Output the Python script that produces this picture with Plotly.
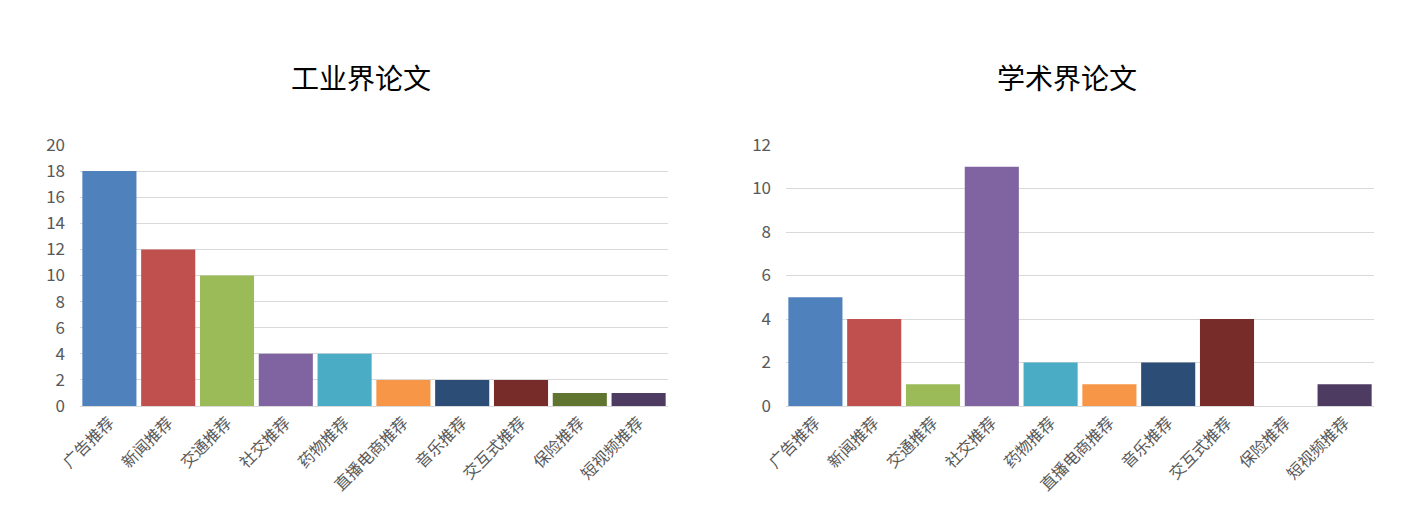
import plotly.graph_objects as go

categories = ["广告推荐", "新闻推荐", "交通推荐", "社交推荐", "药物推荐",
              "直播电商推荐", "音乐推荐", "交互式推荐", "保险推荐", "短视频推荐"]
industry = [18, 12, 10, 4, 4, 2, 2, 2, 1, 1]
academia = [5, 4, 1, 11, 2, 1, 2, 4, 0, 1]
colors = ["#4F81BD", "#C0504D", "#9BBB59", "#8064A2", "#4BACC6",
          "#F79646", "#2C4D75", "#772C2A", "#5F7530", "#4D3B62"]
titles = ["工业界论文", "学术界论文"]

font_family = "Noto Sans CJK SC, Open Sans, sans-serif"

fig = go.Figure()
fig.add_trace(go.Bar(x=categories, y=industry, marker_color=colors,
                     marker_line_width=0, xaxis="x", yaxis="y", showlegend=False))
fig.add_trace(go.Bar(x=categories, y=academia, marker_color=colors,
                     marker_line_width=0, xaxis="x2", yaxis="y2", showlegend=False))

W, H = 1423, 522
ydom = [116 / H, 377 / H]
axis_common = dict(tickangle=-45, tickfont=dict(size=16, color="#595959", family=font_family),
                   showline=True, linecolor="#D9D9D9", linewidth=1, ticks="", showgrid=False,
                   automargin=False, fixedrange=True)
yaxis_common = dict(tickfont=dict(size=17, color="#595959", family=font_family),
                    showgrid=True, gridcolor="#D9D9D9", gridwidth=1, zeroline=False,
                    showline=False, ticks="", ticklabelstandoff=14, automargin=False,
                    fixedrange=True)

fig.update_layout(
    width=W, height=H,
    margin=dict(l=0, r=0, t=0, b=0),
    paper_bgcolor="white", plot_bgcolor="white",
    bargap=0.08,
    font=dict(family=font_family),
    xaxis=dict(domain=[80 / W, 668 / W], anchor="y", **axis_common),
    xaxis2=dict(domain=[786 / W, 1374 / W], anchor="y2", **axis_common),
    yaxis=dict(domain=ydom, anchor="x", range=[0, 20], dtick=2, **yaxis_common),
    yaxis2=dict(domain=ydom, anchor="x2", range=[0, 12], dtick=2, **yaxis_common),
    annotations=[
        dict(text=titles[0], x=361 / W, y=1 - 77 / H, xref="paper", yref="paper",
             xanchor="center", yanchor="middle", showarrow=False,
             font=dict(size=28, color="#000000", family=font_family)),
        dict(text=titles[1], x=1067 / W, y=1 - 77 / H, xref="paper", yref="paper",
             xanchor="center", yanchor="middle", showarrow=False,
             font=dict(size=28, color="#000000", family=font_family)),
    ],
)

fig.write_html("out.html")
